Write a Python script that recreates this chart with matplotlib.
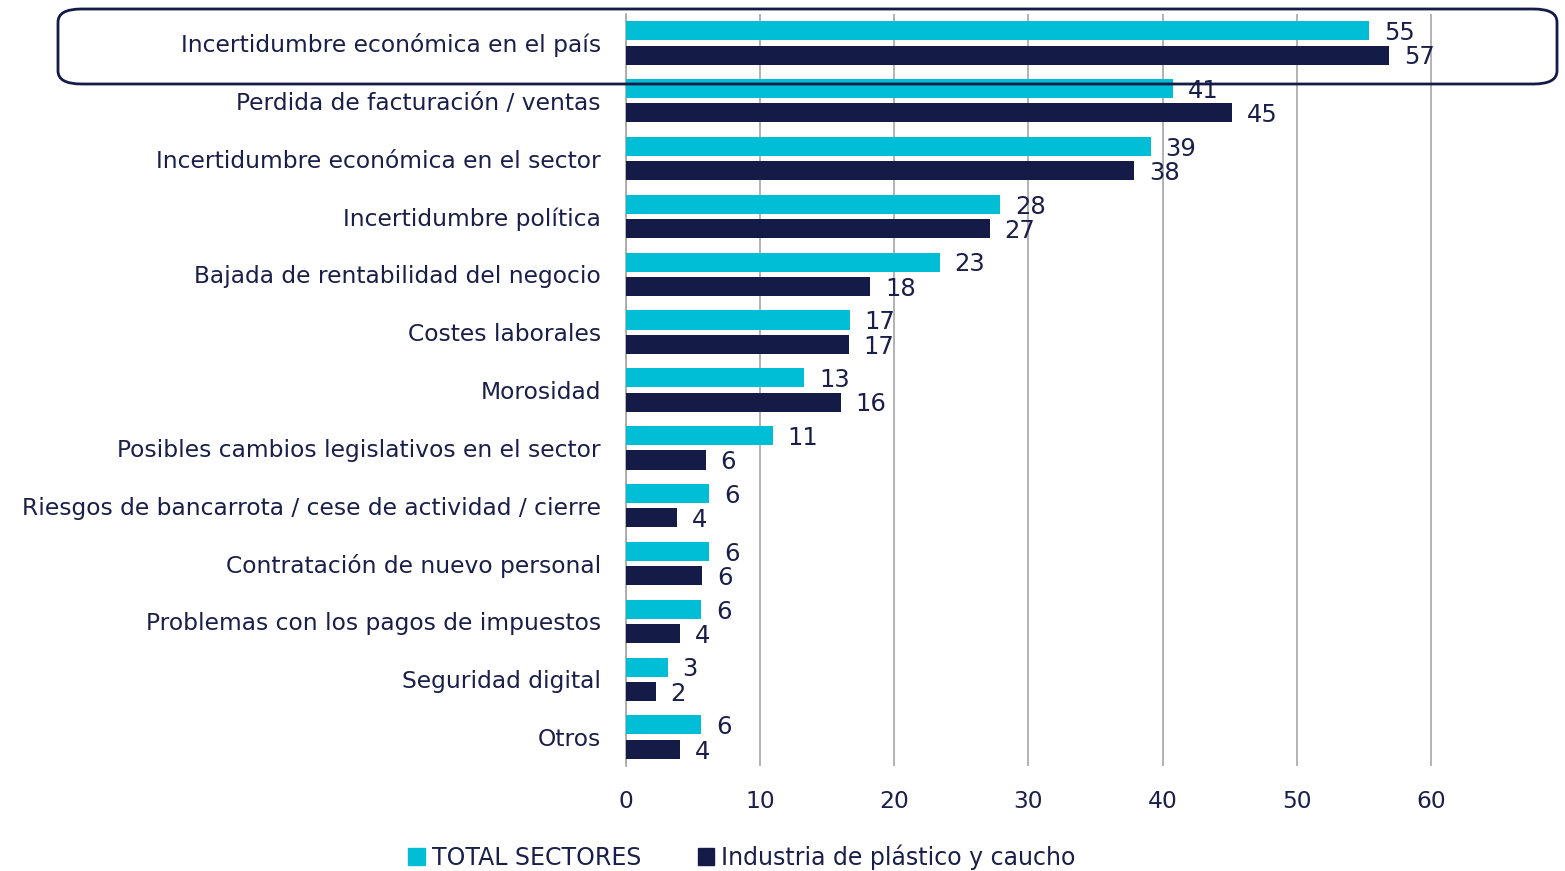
import matplotlib
matplotlib.use("Agg")
import matplotlib.pyplot as plt
from matplotlib.patches import FancyBboxPatch, Patch
import numpy as np

categorias = [
    "Incertidumbre económica en el país",
    "Perdida de facturación / ventas",
    "Incertidumbre económica en el sector",
    "Incertidumbre política",
    "Bajada de rentabilidad del negocio",
    "Costes laborales",
    "Morosidad",
    "Posibles cambios legislativos en el sector",
    "Riesgos de bancarrota / cese de actividad / cierre",
    "Contratación de nuevo personal",
    "Problemas con los pagos de impuestos",
    "Seguridad digital",
    "Otros",
]
total_sectores = [55.4, 40.8, 39.1, 27.9, 23.4, 16.7, 13.3, 10.95, 6.2, 6.2, 5.6, 3.1, 5.6]
industria = [56.9, 45.2, 37.9, 27.1, 18.2, 16.6, 16.0, 5.96, 3.8, 5.7, 4.0, 2.2, 4.0]
xticks = [0, 10, 20, 30, 40, 50, 60]

c_total = "#00BED6"
c_ind = "#141B46"
c_txt = "#1A1F4A"

plt.rcParams["font.family"] = ["DejaVu Sans"]

fig = plt.figure(figsize=(15.65, 8.71), dpi=100)
ax = fig.add_axes([626 / 1565, 1 - 766 / 871, (1498 - 626) / 1565, (766 - 14) / 871])

y = np.arange(len(categorias))
h = 0.33
off = 0.21
ax.barh(y - off, total_sectores, height=h, color=c_total, zorder=3)
ax.barh(y + off, industria, height=h, color=c_ind, zorder=3)

for i in range(len(categorias)):
    ax.text(total_sectores[i] + 1.1, y[i] - off + 0.04, "%d" % round(total_sectores[i]),
            va="center", ha="left", fontsize=17.5, color=c_txt, zorder=4)
    ax.text(industria[i] + 1.1, y[i] + off + 0.04, "%d" % round(industria[i]),
            va="center", ha="left", fontsize=17.5, color=c_txt, zorder=4)

ax.set_ylim(len(categorias) - 0.5, -0.5)
ax.set_xlim(0, 65)
ax.set_yticks(y)
ax.set_yticklabels(categorias, fontsize=16.8, color=c_txt)
ax.set_xticks(xticks)
ax.set_xticklabels([str(t) for t in xticks], fontsize=16.8, color=c_txt)
ax.tick_params(axis="both", length=0)
ax.tick_params(axis="y", pad=18)
ax.tick_params(axis="x", pad=17)
ax.xaxis.grid(True, color="#A6A6A6", linewidth=1.2, zorder=0)
for s in ["top", "right", "bottom"]:
    ax.spines[s].set_visible(False)
ax.spines["left"].set_color("#A6A6A6")
ax.spines["left"].set_linewidth(1.2)

# recuadro redondeado sobre la primera categoría
box = FancyBboxPatch((58 / 1565, 1 - 84 / 871), (1557 - 58) / 1565, (84 - 9) / 871,
                     boxstyle="round,pad=0,rounding_size=0.015",
                     transform=fig.transFigure, fill=False, edgecolor=c_ind,
                     linewidth=2, zorder=10)
fig.patches.append(box)

handles = [Patch(color=c_total, label="TOTAL SECTORES"),
           Patch(color=c_ind, label="Industria de plástico y caucho")]
leg = fig.legend(handles=handles, loc="center", bbox_to_anchor=(742 / 1565, 1 - 857 / 871),
                 ncol=2, frameon=False, fontsize=17, handlelength=0.7, handleheight=0.7,
                 handletextpad=0.3, columnspacing=2.4)
for t in leg.get_texts():
    t.set_color(c_txt)

fig.savefig("out.png", dpi=100)
